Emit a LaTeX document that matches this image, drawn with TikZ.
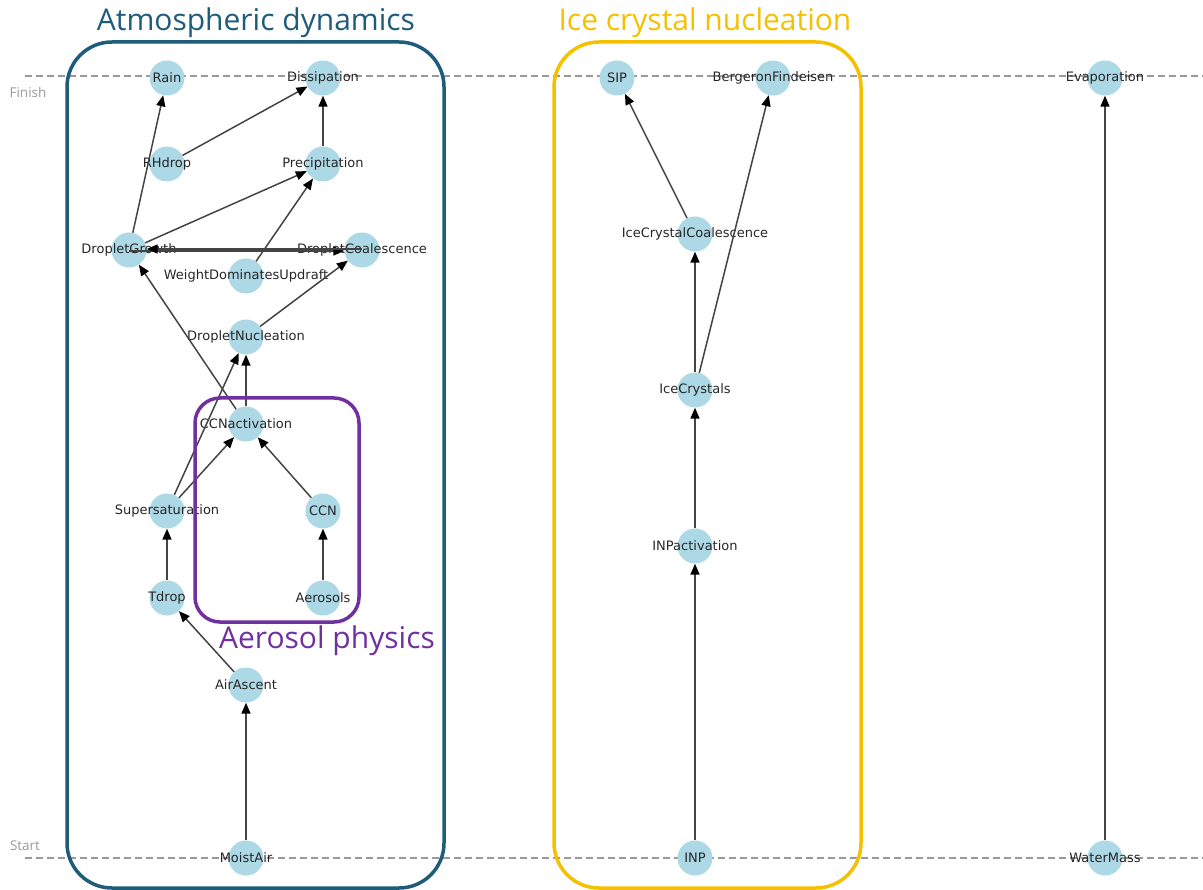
\documentclass[tikz,border=0pt]{standalone}
\usepackage{fontspec}
\setmainfont{DejaVu Sans}
\newfontfamily\titlefont{Open Sans}
\usetikzlibrary{arrows.meta}
\definecolor{nodeblue}{HTML}{ADD8E6}
\definecolor{atmcol}{HTML}{1F5C7A}
\definecolor{icecol}{HTML}{F5C000}
\definecolor{aercol}{HTML}{7030A0}
\definecolor{edgecol}{HTML}{444444}
\definecolor{guidecol}{HTML}{999999}
\newcommand\gnode[3]{\node[gn] (#1) at (#2) {}; \node[gl] (#1-t) at (#1) {#3};}
\begin{document}
\begin{tikzpicture}[x=1pt,y=-1pt,
  gn/.style={circle,fill=nodeblue,minimum size=35pt,inner sep=0pt},
  gl/.style={font=\fontsize{13}{15}\selectfont,text=black!85,inner sep=0pt},
  edge/.style={draw=edgecol,line width=1.5pt,-{Triangle[length=11pt,width=9pt,color=black]}},
  guide/.style={draw=guidecol,line width=1.1pt,dash pattern=on 7pt off 4pt},
  guidelbl/.style={font=\titlefont\fontsize{13.5}{15}\selectfont,text=guidecol},
  grpbox/.style={line width=3.5pt,rounded corners=#1},
  grptitle/.style={font=\titlefont\fontsize{30}{34}\selectfont,anchor=base}]
\useasboundingbox (0,0) rectangle (1203,890);
% guide lines
\coordinate (f0) at (25,76); \coordinate (f1) at (1203,76);
\coordinate (s0) at (25,858); \coordinate (s1) at (1203,858);
\draw[guide] (f0) -- (f1);
\draw[guide] (s0) -- (s1);
\node[guidelbl] (finish) at (28,92) {Finish};
\node[guidelbl] (start) at (25,846) {Start};
% nodes
\gnode{Rain}{167,78}{Rain}
\gnode{Diss}{323,78}{Dissipation}
\gnode{RH}{167,164}{RHdrop}
\gnode{Prec}{323,164}{Precipitation}
\gnode{DG}{129,250}{DropletGrowth}
\gnode{DC}{362,250}{DropletCoalescence}
\gnode{WDU}{246,276}{WeightDominatesUpdraft}
\gnode{DN}{246,337}{DropletNucleation}
\gnode{CCNa}{246,424}{CCNactivation}
\gnode{SS}{167,511}{Supersaturation}
\gnode{CCN}{323,511}{CCN}
\gnode{Td}{167,598}{Tdrop}
\gnode{Aer}{323,598}{Aerosols}
\gnode{AA}{246,685}{AirAscent}
\gnode{MA}{246,858}{MoistAir}
\gnode{SIP}{617,78}{SIP}
\gnode{BF}{773,78}{BergeronFindeisen}
\gnode{ICC}{695,234}{IceCrystalCoalescence}
\gnode{IC}{695,390}{IceCrystals}
\gnode{INPa}{695,546}{INPactivation}
\gnode{INP}{695,858}{INP}
\gnode{Evap}{1105,78}{Evaporation}
\gnode{WM}{1105,858}{WaterMass}
% edges
\draw[edge] (RH) -- (Diss);
\draw[edge] (Prec) -- (Diss);
\draw[edge] (DG) -- (Rain);
\draw[edge] (DG) -- (Prec);
\draw[edge] (WDU) -- (Prec);
\draw[edge] ([yshift=-1pt]DG.center) -- ([yshift=-1pt]DC.west);
\draw[edge] ([yshift=1pt]DC.center) -- ([yshift=1pt]DG.east);
\draw[edge] (DN) -- (DC);
\draw[edge] (CCNa) -- (DG);
\draw[edge] (SS) -- (DN);
\draw[edge] (CCNa) -- (DN);
\draw[edge] (CCN) -- (CCNa);
\draw[edge] (SS) -- (CCNa);
\draw[edge] (Td) -- (SS);
\draw[edge] (Aer) -- (CCN);
\draw[edge] (AA) -- (Td);
\draw[edge] (MA) -- (AA);
\draw[edge] (ICC) -- (SIP);
\draw[edge] (IC) -- (ICC);
\draw[edge] (IC) -- (BF);
\draw[edge] (INPa) -- (IC);
\draw[edge] (INP) -- (INPa);
\draw[edge] (WM) -- (Evap);
% group boxes
\draw[grpbox=45pt,atmcol] (67,42) rectangle (444,888);
\draw[grpbox=45pt,icecol] (554,42) rectangle (861,888);
\draw[grpbox=25pt,aercol] (195,398) rectangle (359,622);
\node[grptitle,text=atmcol] (tatm) at (256,31) {Atmospheric dynamics};
\node[grptitle,text=icecol] (tice) at (705,31) {Ice crystal nucleation};
\node[grptitle,text=aercol] (taer) at (327,648) {Aerosol physics};
\end{tikzpicture}
\end{document}
